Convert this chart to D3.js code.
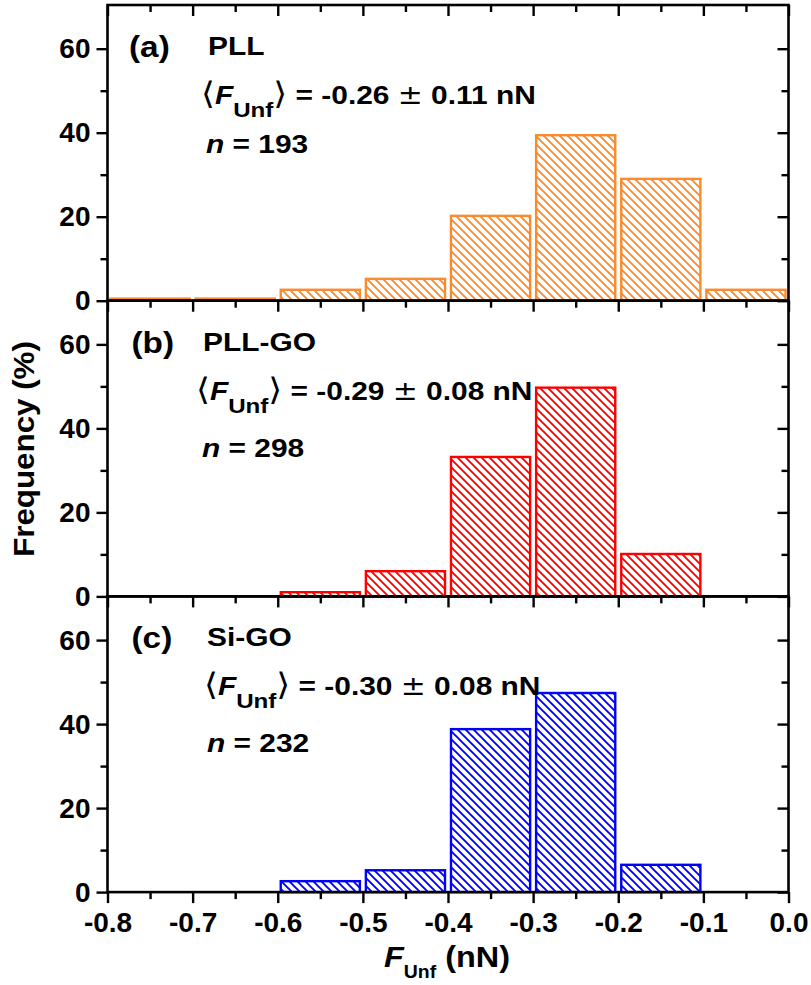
<!DOCTYPE html>
<html>
<head>
<meta charset="utf-8">
<script src="https://cdn.jsdelivr.net/npm/d3@7"></script>
<style>
  body { margin: 0; background: #fff; }
  text { font-family: "Liberation Sans", Arial, sans-serif; font-weight: bold; fill: #000; }
</style>
</head>
<body>
<div id="chart"></div>
<script>
// bins of F_Unf (nN), left edges, width 0.1
var binStarts = [-0.8, -0.7, -0.6, -0.5, -0.4, -0.3, -0.2, -0.1]
var xTicks = [-0.8, -0.7, -0.6, -0.5, -0.4, -0.3, -0.2, -0.1, 0.0]
var yTicks = [0, 20, 40, 60]
var yMinor = [10, 30, 50]

// frequency (%) per bin
var pllFreq   = [0.5, 0.5, 2.6, 5.2, 20.2, 39.4, 29.0, 2.6]
var pllgoFreq = [0, 0, 1.0, 6.0, 33.2, 49.7, 10.1, 0]
var sigoFreq  = [0, 0, 2.6, 5.2, 38.8, 47.4, 6.5, 0]

var panelLetters = ['(a)', '(b)', '(c)']
var panelNames = ['PLL', 'PLL-GO', 'Si-GO']
var meanForce = ['-0.26', '-0.29', '-0.30']
var sdForce = ['0.11', '0.08', '0.08']
var counts = [193, 298, 232]
var colors = ['#f98b2f', '#ff0000', '#0000ff']

var series = [pllFreq, pllgoFreq, sigoFreq]

var W = 811, H = 985
var left = 107.5, right = 788.5, top0 = 5, panelH = 295.7
var nLineOffset = [148, 156, 156]
var stretch = 1.15   // text in the original is drawn a bit wide

var svg = d3.select('#chart').append('svg')
    .attr('width', W)
    .attr('height', H)

var defs = svg.append('defs')
colors.forEach(function(c, i) {
    var p = defs.append('pattern')
        .attr('id', 'hatch' + i)
        .attr('patternUnits', 'userSpaceOnUse')
        .attr('width', 8)
        .attr('height', 8)
    p.append('path')
        .attr('d', 'M-2,-2L10,10M-2,6L2,10M6,-2L10,2')
        .attr('stroke', c)
        .attr('stroke-width', 1.9)
})

var x = d3.scaleLinear().domain([-0.8, 0]).range([left, right])
var xMinor = binStarts.map(function(d) { return d + 0.05 })

function styleAxis(g) {
    g.select('.domain').remove()
    g.selectAll('.tick line').attr('stroke', '#000').attr('stroke-width', 2.4)
    g.selectAll('.tick text').style('font-size', '28px').attr('fill', '#000')
}

// text placed at (tx, ty) and stretched horizontally
function wideText(parent, tx, ty, size, sx) {
    return parent.append('g')
        .attr('transform', 'translate(' + tx + ',' + ty + ') scale(' + sx + ',1)')
        .append('text')
        .style('font-size', size + 'px')
}

series.forEach(function(vals, i) {
    var top = top0 + i * panelH
    var bottom = top + panelH
    var y = d3.scaleLinear().domain([0, 70.4]).range([bottom, top])
    var g = svg.append('g')

    // bars
    g.selectAll('rect.bar')
        .data(vals.map(function(v, k) { return {x0: binStarts[k], v: v} })
            .filter(function(d) { return d.v > 0 }))
        .enter()
        .append('rect')
        .attr('class', 'bar')
        .attr('x', function(d) { return x(d.x0) + 3 })
        .attr('width', function(d) { return x(d.x0 + 0.1) - x(d.x0) - 6 })
        .attr('y', function(d) { return y(d.v) })
        .attr('height', function(d) { return y(0) - y(d.v) })
        .attr('fill', 'url(#hatch' + i + ')')
        .attr('stroke', colors[i])
        .attr('stroke-width', 2.4)

    // left axis
    g.append('g')
        .attr('transform', 'translate(' + left + ',0)')
        .call(d3.axisLeft(y).tickValues(yTicks).tickSize(11).tickPadding(6).tickFormat(d3.format('d')))
        .call(styleAxis)
    g.append('g')
        .attr('transform', 'translate(' + left + ',0)')
        .call(d3.axisLeft(y).tickValues(yMinor).tickSize(7).tickFormat(''))
        .call(styleAxis)
    // right axis, ticks inward
    g.append('g')
        .attr('transform', 'translate(' + right + ',0)')
        .call(d3.axisLeft(y).tickValues(yTicks).tickSize(11).tickFormat(''))
        .call(styleAxis)
    g.append('g')
        .attr('transform', 'translate(' + right + ',0)')
        .call(d3.axisLeft(y).tickValues(yMinor).tickSize(7).tickFormat(''))
        .call(styleAxis)

    // bottom axis
    var xAx = d3.axisBottom(x).tickValues(xTicks).tickSize(11).tickPadding(9.5)
    if (i < 2) xAx.tickFormat('')
    else xAx.tickFormat(function(d) { return d.toFixed(1) })
    g.append('g')
        .attr('transform', 'translate(0,' + bottom + ')')
        .call(xAx)
        .call(styleAxis)
    g.append('g')
        .attr('transform', 'translate(0,' + bottom + ')')
        .call(d3.axisBottom(x).tickValues(xMinor).tickSize(7).tickFormat(''))
        .call(styleAxis)
    if (i == 0) {
        // top axis, ticks inward
        g.append('g')
            .attr('transform', 'translate(0,' + top + ')')
            .call(d3.axisBottom(x).tickValues(xTicks).tickSize(11).tickFormat(''))
            .call(styleAxis)
        g.append('g')
            .attr('transform', 'translate(0,' + top + ')')
            .call(d3.axisBottom(x).tickValues(xMinor).tickSize(7).tickFormat(''))
            .call(styleAxis)
    }

    // frame
    g.append('rect')
        .attr('x', left)
        .attr('y', top)
        .attr('width', right - left)
        .attr('height', panelH)
        .attr('fill', 'none')
        .attr('stroke', '#000')
        .attr('stroke-width', 2.6)

    // annotations
    wideText(g, 129 + (i > 0 ? 2.5 : 0), top + 52, 29, stretch).text(panelLetters[i])
    wideText(g, [208, 203, 207][i], top + 50, 26, stretch).text(panelNames[i])

    var f = wideText(g, [201, 196, 204][i], top + 99, 26, stretch)
    f.append('tspan')
        .style('font-family', '"DejaVu Sans", sans-serif')
        .style('font-weight', 'normal')
        .style('font-size', '31px')
        .text('\u27E8')
    f.append('tspan').style('font-style', 'italic').text('F')
    f.append('tspan').attr('dy', 13).style('font-size', '21px').text('Unf')
    f.append('tspan')
        .attr('dy', -13)
        .style('font-family', '"DejaVu Sans", sans-serif')
        .style('font-weight', 'normal')
        .style('font-size', '31px')
        .text('\u27E9')
    f.append('tspan').text(' = ' + meanForce[i] + ' ')
    f.append('tspan')
        .style('font-family', '"DejaVu Sans", sans-serif')
        .style('font-weight', 'normal')
        .text('\u00B1')
    f.append('tspan').text(' ' + sdForce[i] + ' nN')

    var nt = wideText(g, [206, 202, 207][i], top + nLineOffset[i], 26, stretch)
    nt.append('tspan').style('font-style', 'italic').text('n')
    nt.append('tspan').text(' = ' + counts[i])
})

// y label
svg.append('text')
    .attr('transform', 'translate(34,449) rotate(-90) scale(1.08,1)')
    .attr('text-anchor', 'middle')
    .style('font-size', '29px')
    .text('Frequency (%)')

// x label
var xl = wideText(svg, 384, 967, 30, 1.08)
xl.append('tspan').style('font-style', 'italic').text('F')
xl.append('tspan').attr('dy', 11).style('font-size', '18px').text('Unf')
xl.append('tspan').attr('dy', -11).text(' (nN)')
</script>
</body>
</html>
